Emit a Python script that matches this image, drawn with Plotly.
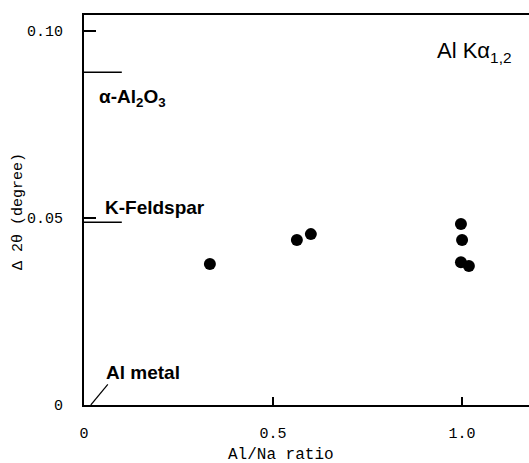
import plotly.graph_objects as go

# Data
al_na_ratio = [0.333, 0.563, 0.600, 0.997, 1.000, 0.997, 1.018]
delta_2theta = [0.0377, 0.0441, 0.0457, 0.0484, 0.0441, 0.0382, 0.0372]

x_tickvals = [0, 0.5, 1.0]
x_ticktext = ["0", "0.5", "1.0"]
y_tickvals = [0, 0.05, 0.10]
y_ticktext = ["0", "0.05", "0.10"]

# Reference levels (value of Δ2θ for standards)
ref_names = ["α-Al<sub>2</sub>O<sub>3</sub>", "K-Feldspar"]
ref_values = [0.089, 0.0489]

mono = "Liberation Mono"
sans = "Liberation Sans"

fig = go.Figure()

fig.add_trace(go.Scatter(
    x=al_na_ratio, y=delta_2theta, mode="markers",
    marker=dict(color="black", size=12, line=dict(width=0)),
    showlegend=False, hoverinfo="skip"))

# Reference short lines
for v in ref_values:
    fig.add_shape(type="line", xref="x", yref="y", x0=0, x1=0.1, y0=v, y1=v,
                  line=dict(color="black", width=1.5))

# Al metal leader line
fig.add_shape(type="line", xref="x", yref="y", x0=0.018, y0=0, x1=0.063, y1=0.0055,
              line=dict(color="black", width=1.2))

annotations = [
    dict(x=0.034, y=0.0822, text="<b>" + ref_names[0] + "</b>"),
    dict(x=0.050, y=0.0529, text="<b>" + ref_names[1] + "</b>"),
    dict(x=0.053, y=0.0086, text="<b>Al metal</b>"),
]
for a in annotations:
    fig.add_annotation(x=a["x"], y=a["y"], xref="x", yref="y", text=a["text"],
                       showarrow=False, xanchor="left", yanchor="middle",
                       font=dict(family=sans, size=19, color="black"))

fig.add_annotation(x=0.929, y=0.0945, xref="x", yref="y",
                   text="Al Kα<sub>1,2</sub>", showarrow=False,
                   xanchor="left", yanchor="middle",
                   font=dict(family=sans, size=22, color="black"))

# Axis titles
fig.add_annotation(x=-0.146, y=0.495, xref="paper", yref="paper",
                   text="Δ 2θ (degree)", textangle=-90, showarrow=False,
                   xanchor="center", yanchor="middle",
                   font=dict(family=mono, size=15, color="black"))
fig.add_annotation(x=0.443, y=-0.128, xref="paper", yref="paper",
                   text="Al/Na ratio", showarrow=False,
                   xanchor="center", yanchor="middle",
                   font=dict(family=mono, size=16, color="black"))

fig.update_xaxes(range=[0, 1.177], showline=True, linecolor="black", linewidth=2,
                 mirror=True, ticks="inside", ticklen=8, tickwidth=1.5, tickcolor="black",
                 tickvals=x_tickvals, ticktext=x_ticktext, ticklabelstandoff=13,
                 showgrid=False, zeroline=False,
                 tickfont=dict(family=mono, size=15, color="black"))
fig.update_yaxes(range=[0, 0.1043], showline=True, linecolor="black", linewidth=2,
                 mirror=False, ticks="inside", ticklen=12, tickwidth=1.5, tickcolor="black",
                 tickvals=y_tickvals, ticktext=y_ticktext, ticklabelstandoff=16,
                 showgrid=False, zeroline=False,
                 tickfont=dict(family=mono, size=15, color="black"))

fig.update_layout(width=529, height=463, margin=dict(l=84, r=0, t=15, b=58),
                  plot_bgcolor="white", paper_bgcolor="white", showlegend=False)

fig.write_html("out.html", config={"displayModeBar": False},
               post_script="document.body.style.margin='0';")
